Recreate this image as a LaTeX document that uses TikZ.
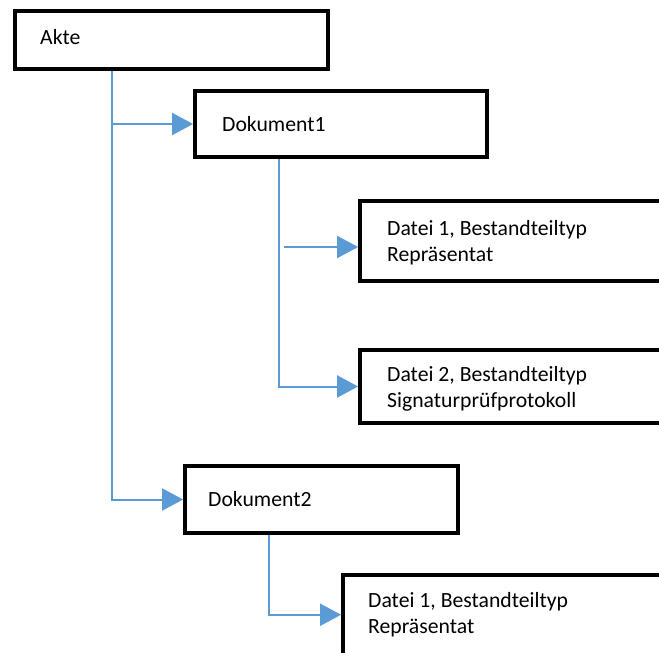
\documentclass[tikz,border=0pt]{standalone}
\usepackage{fontspec}
\setmainfont{Carlito}
\usetikzlibrary{arrows.meta,calc}
\definecolor{conblue}{HTML}{5B9BD5}
\tikzset{
  box/.style={draw=black, line width=3.8pt, fill=white, rectangle, inner sep=0pt},
  lbl/.style={anchor=base west, inner sep=0pt, align=left, font=\fontsize{21.7pt}{26pt}\selectfont},
  conn/.style={draw=conblue, line width=2pt, -{Triangle[length=21pt,width=22pt]}}
}
\begin{document}
\begin{tikzpicture}[x=1pt,y=-1pt]
\useasboundingbox (0,0) rectangle (659,653);
\clip (0,0) rectangle (659,653);
\fill[white] (0,0) rectangle (659,653);
% boxes
\node[box, minimum width=313pt, minimum height=58pt] (akte) at (171.5,40) {};
\node[box, minimum width=292pt, minimum height=66pt] (dok1) at (341,124) {};
\node[box, minimum width=340pt, minimum height=80pt] (datei1) at (530,241) {};
\node[box, minimum width=340pt, minimum height=73pt] (datei2) at (530,386.5) {};
\node[box, minimum width=273pt, minimum height=67pt] (dok2) at (321.5,499.5) {};
\node[box, minimum width=357pt, minimum height=79.5pt] (datei3) at (521.5,614.75) {};
% labels (base = baseline of last line)
\node[lbl] (takte) at (40,45) {Akte};
\node[lbl] (tdok1) at (222,131) {Dokument1};
\node[lbl] (tdatei1) at (387,261) {Datei 1, Bestandteiltyp\\Repräsentat};
\node[lbl] (tdatei2) at (387,407) {Datei 2, Bestandteiltyp\\Signaturprüfprotokoll};
\node[lbl] (tdok2) at (208,506) {Dokument2};
\node[lbl] (tdatei3) at (368,633) {Datei 1, Bestandteiltyp\\Repräsentat};
% connectors
\coordinate (t1) at (112,0);
\coordinate (t2) at (279,0);
\coordinate (t3) at (269,0);
\draw[conn] (akte.south -| t1) |- (dok2.west);
\draw[conn] (dok1.west -| t1) -- (dok1.west);
\draw[conn] (dok1.south -| t2) |- (datei2.west);
\coordinate (d1in) at ($(datei1.west)+(0,6)$);
\coordinate (d1out) at ($(d1in -| t2)+(5,0)$);
\draw[conn] (d1out) -- (d1in);
\draw[conn] (dok2.south -| t3) |- (datei3.west);
\end{tikzpicture}
\end{document}
